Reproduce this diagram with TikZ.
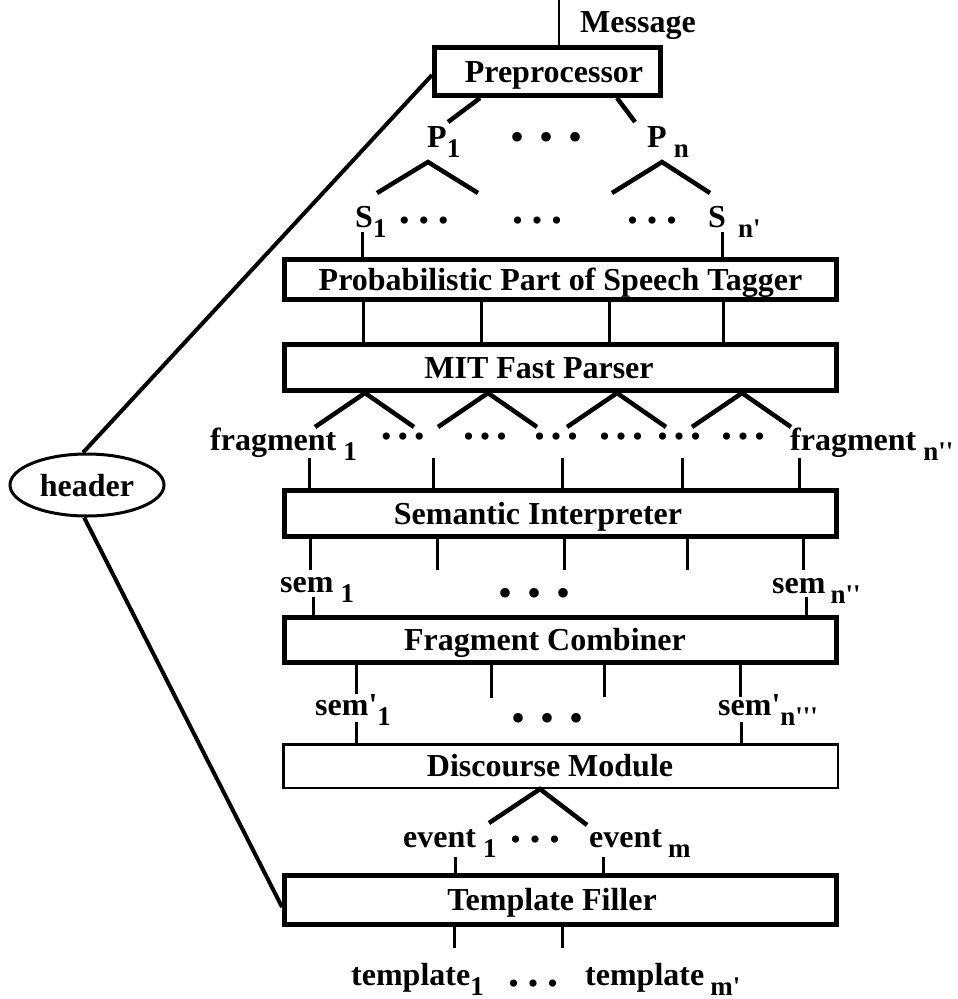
\documentclass[tikz,border=0pt]{standalone}
\usepackage{fontspec}
\setmainfont{Liberation Serif}[Ligatures=TeXOff]
\usetikzlibrary{shapes.geometric}
\newcommand\lbl{\fontsize{32}{36}\selectfont\bfseries}
\newcommand\sbs[2][7pt]{\hspace{#1}\raisebox{-10pt}{\fontsize{27}{27}\selectfont\bfseries #2}}
\newcommand\pr{'}
\newcommand\bigdts{\fontsize{40}{40}\selectfont •\hspace{15pt}•\hspace{15pt}•}
\newcommand\smdts[1]{\fontsize{30}{30}\selectfont •\hspace{#1}•\hspace{#1}•}
\begin{document}
\begin{tikzpicture}[x=1pt,y=-1pt,
  box/.style={draw, line width=5pt, rectangle, inner sep=0pt, minimum width=552pt,
              text height=21pt, text depth=0pt, font=\lbl},
  lab/.style={anchor=base west, inner sep=0pt, font=\lbl},
  dts/.style={inner sep=0pt, anchor=center},
  vline/.style={line width=3pt},
  tline/.style={line width=4.5pt},
  hline/.style={line width=4pt}]
\useasboundingbox (0,0) rectangle (958,999);

% boxes
\node[box, minimum width=226pt, minimum height=48pt] (pre) at (547.5,71.5) {\hspace*{13pt}Preprocessor};
\node[box, minimum height=40pt] (pos) at (560.5,279.5) {Probabilistic Part of Speech Tagger};
\node[box, minimum height=46pt] (mit) at (560.5,367.5) {MIT Fast Parser\hspace*{43pt}};
\node[box, minimum height=46pt] (sem) at (560.5,513.5) {Semantic Interpreter\hspace*{45pt}};
\node[box, minimum height=45pt] (fc) at (560.5,640) {Fragment Combiner\hspace*{31pt}};
\node[box, line width=2.5pt, minimum width=554.5pt, minimum height=43.5pt] (dm) at (560.5,766) {Discourse Module\hspace*{21pt}};
\node[box, minimum height=49pt] (tf) at (560.5,900) {Template Filler\hspace*{17pt}};
\node[draw, ellipse, line width=3pt, minimum width=154pt, minimum height=62pt, inner sep=0pt,
      text height=23pt, text depth=0pt, font=\lbl] (hdr) at (87,485) {header};

% labels
\node[lab] (msg) at (580,32) {Message};
\node[lab] (p1) at (427,147) {P\sbs[0pt]{1}};
\node[lab] (pn) at (647,147) {P\sbs{n}};
\node[lab] (s1) at (355,227) {S\sbs[0pt]{1}};
\node[lab] (sn) at (708,227) {S\sbs[12pt]{n\pr}};
\node[lab] (f1) at (210,450) {fragment\sbs{1}};
\node[lab] (fn) at (790,450) {fragment\sbs{n\pr\pr}};
\node[lab] (sm1) at (280,592) {sem\sbs{1}};
\node[lab] (smn) at (772,593) {sem\sbs[5pt]{n\pr\pr}};
\node[lab] (sp1) at (315,715) {sem\pr\sbs[0pt]{1}};
\node[lab] (spn) at (718,715) {sem\pr\sbs[0pt]{n\pr\pr\pr}};
\node[lab] (e1) at (403,847) {event\sbs{1}};
\node[lab] (em) at (589,847) {event\sbs[6pt]{m}};
\node[lab] (t1) at (351,985) {template\sbs[0pt]{1}};
\node[lab] (tm) at (585,985) {template\sbs[6pt]{m\pr}};

% dots
\node[dts] (dp) at (547,141) {\bigdts};
\node[dts] (ds1) at (424,224) {\smdts{9pt}};
\node[dts] (ds2) at (537,224) {\smdts{9pt}};
\node[dts] (ds3) at (652,224) {\smdts{9pt}};
\foreach \x [count=\i] in {403,485,556,621,679,743}
  \node[dts] (df\i) at (\x,440) {\smdts{6pt}};
\node[dts] (dsm) at (535,597) {\bigdts};
\node[dts] (dsp) at (548,722) {\bigdts};
\node[dts] (dev) at (535,843) {\smdts{9pt}};
\node[dts] (dtp) at (533,987) {\smdts{9pt}};

% message and header lines
\coordinate (msgtop) at (559,0);
\draw[line width=2.5pt] (msgtop) -- (msgtop |- pre.north);
\draw[hline] (hdr.97) -- ([yshift=-3.5pt]pre.west);
\draw[hline] (hdr.265) -- ([yshift=-7pt]tf.west);

% preprocessor legs
\coordinate (p1e) at (448,122);
\coordinate (pne) at (635,122);
\draw[tline] ([xshift=-67.5pt]pre.south) -- (p1e);
\draw[tline] ([xshift=69.5pt]pre.south) -- (pne);

% P tents
\coordinate (ta1) at (428,162); \coordinate (tl1) at (377,193); \coordinate (tr1) at (478,193);
\coordinate (ta2) at (662,162); \coordinate (tl2) at (612,193); \coordinate (tr2) at (710,193);
\draw[tline] (tl1) -- (ta1) -- (tr1);
\draw[tline] (tl2) -- (ta2) -- (tr2);

% S lines
\coordinate (s1b) at (362,232);
\coordinate (snb) at (722,232);
\draw[vline] (s1b) -- (s1b |- pos.north);
\draw[vline] (snb) -- (snb |- pos.north);

% POS -> MIT
\foreach \x [count=\i] in {363,481,609,723}{
  \coordinate (pm\i) at (\x,300);
  \draw[vline] (pm\i |- pos.south) -- (pm\i |- mit.north);
}

% MIT tents
\foreach \x [count=\i] in {365,488,617,742}{
  \coordinate (ma\i) at (\x,393);
  \coordinate (ml\i) at (\x-50,427);
  \coordinate (mr\i) at (\x+49,427);
  \draw[tline] (ml\i) -- (ma\i |- mit.south) -- (mr\i);
}

% fragment row -> semantic
\foreach \x [count=\i] in {309,433,562,682,799}{
  \coordinate (fs\i) at (\x,458);
  \draw[vline] (fs\i) -- (fs\i |- sem.north);
}

% semantic down
\foreach \x [count=\i] in {310,437,564,687,803}{
  \coordinate (sd\i) at (\x,570);
  \draw[vline] (sd\i |- sem.south) -- (sd\i);
}

% sem -> FC
\coordinate (sm1b) at (313,597);
\coordinate (smnb) at (806,597);
\draw[vline] (sm1b) -- (sm1b |- fc.north);
\draw[vline] (smnb) -- (smnb |- fc.north);

% FC down
\foreach \x/\y [count=\i] in {356/694,491/698,604/697,740/697}{
  \coordinate (fd\i) at (\x,\y);
  \draw[vline] (fd\i |- fc.south) -- (fd\i);
}

% sem' -> DM
\coordinate (sp1b) at (356,722);
\coordinate (spnb) at (741,722);
\draw[vline] (sp1b) -- (sp1b |- dm.north);
\draw[vline] (spnb) -- (spnb |- dm.north);

% DM tent
\coordinate (da) at (540,789); \coordinate (dl) at (489,823); \coordinate (dr) at (587,825);
\draw[tline] (dl) -- (da |- dm.south) -- (dr);

% event -> TF
\coordinate (e1b) at (455,857);
\coordinate (emb) at (603,857);
\draw[vline] (e1b) -- (e1b |- tf.north);
\draw[vline] (emb) -- (emb |- tf.north);

% TF down
\coordinate (t1t) at (454,948);
\coordinate (tmt) at (562,948);
\draw[vline] (t1t |- tf.south) -- (t1t);
\draw[vline] (tmt |- tf.south) -- (tmt);
\end{tikzpicture}
\end{document}
